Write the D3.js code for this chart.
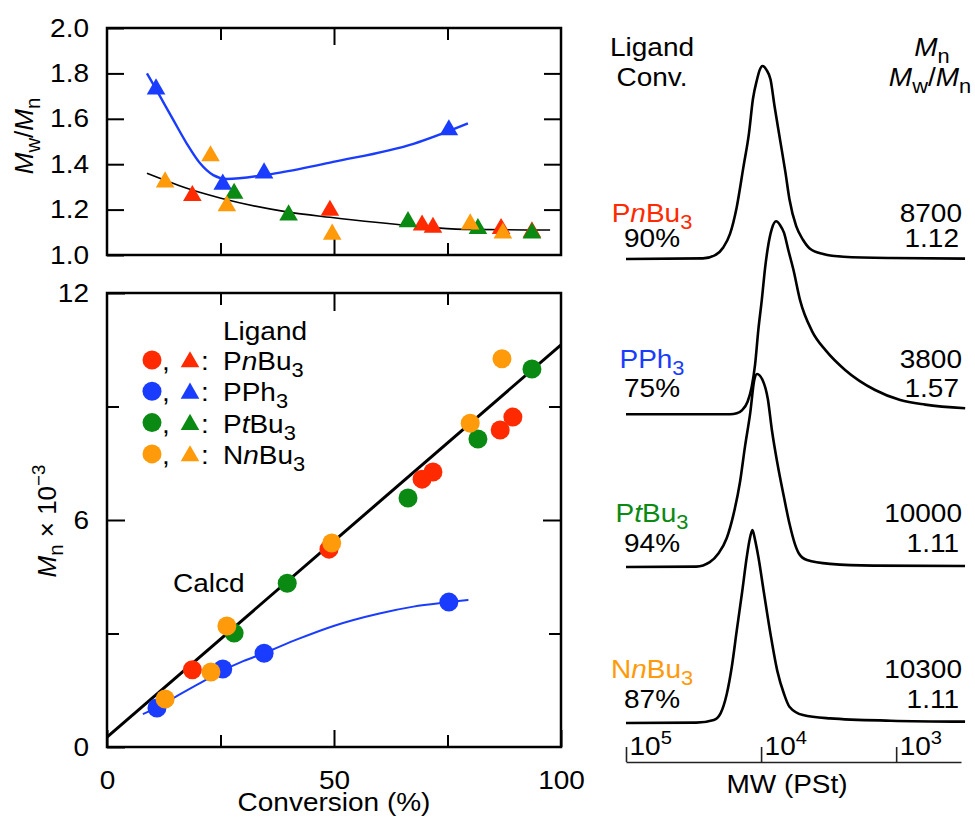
<!DOCTYPE html>
<html lang="en">
<head>
<meta charset="utf-8">
<title>Ligand effect on polymerization</title>
<script src="https://cdn.jsdelivr.net/npm/d3@7"></script>
<style>
  body { margin: 0; background: #fff; }
  text { font-family: "Liberation Sans", Arial, Helvetica, sans-serif; fill: #000; }
</style>
</head>
<body>
<script>
// ---- values ----
var colRed = "#ff2a00", colBlue = "#1a3cff", colGreen = "#0a8a12", colOrange = "#ff9a0a";

// Mw/Mn vs conversion (triangles), [conv %, Mw/Mn]
var pdiPnBu3 = [[18.8,1.27],[49.1,1.205],[69.4,1.14],[71.8,1.13],[86.8,1.125],[93.6,1.11]];
var pdiPPh3  = [[10.8,1.74],[25.5,1.32],[34.6,1.37],[75.3,1.56]];
var pdiPtBu3 = [[28,1.28],[40,1.185],[66.3,1.155],[81.7,1.125],[93.6,1.105]];
var pdiNnBu3 = [[12.8,1.33],[22.8,1.445],[26.4,1.225],[49.6,1.10],[80,1.145],[87.2,1.105]];

// Mn x 10^-3 vs conversion (circles)
var mnPnBu3 = [[18.8,2.04],[48.9,5.23],[69.4,7.08],[71.8,7.27],[86.6,8.38],[89.4,8.72]];
var mnPPh3  = [[11,1.03],[25.5,2.06],[34.6,2.48],[75.3,3.83]];
var mnPtBu3 = [[28,3.01],[39.7,4.33],[66.3,6.58],[81.7,8.14],[93.6,9.99]];
var mnNnBu3 = [[12.8,1.27],[22.9,1.98],[26.4,3.2],[49.5,5.39],[80,8.56],[87,10.26]];

// guide curves
var fitPdiPPh3 = [[8.8,1.80],[10.9,1.727],[14.6,1.595],[17.6,1.49],[20.5,1.404],[23.4,1.352],[26.4,1.335],[34.6,1.352],[38.1,1.363],[49.8,1.41],[67.5,1.49],[79.5,1.58]];
var fitPdiOther = [[8.8,1.36],[18.8,1.286],[25.1,1.25],[39.6,1.19],[49.1,1.166],[67.5,1.128],[78.5,1.113],[97.6,1.11]];
var fitMnPPh3 = [[7.9,0.87],[11,1.04],[15,1.32],[20.5,1.69],[25.5,2.02],[30,2.27],[34.6,2.48],[42,2.85],[49.9,3.2],[60,3.53],[67.5,3.71],[75.4,3.83],[79.6,3.89]];
var calcdMn = [[0,0.26],[100,10.63]];

// SEC traces, [log10 MW, relative intensity]
var secPnBu3 = [[5.0,0],[4.43,0.3],[4.34,2],[4.28,6],[4.23,13],[4.18,27],[4.13,48],[4.09,65],[4.06,83],[4.03,93],[4.01,98],[3.99,100],[3.96,98],[3.93,93],[3.90,79],[3.86,62],[3.82,45],[3.79,31],[3.74,17],[3.69,10],[3.64,5.5],[3.54,2.6],[3.39,1.2],[3.04,0.5],[2.49,0.2]];
var secPPh3 = [[5.0,0],[4.23,0],[4.18,0.5],[4.14,2.2],[4.10,6.5],[4.07,14],[4.044,26],[4.02,44],[3.995,59],[3.97,76],[3.946,88],[3.921,96],[3.889,100],[3.859,98],[3.83,94],[3.798,85],[3.761,75],[3.711,59],[3.622,43],[3.52,33],[3.378,23],[3.156,12.6],[2.97,7.4],[2.785,5],[2.489,3.1]];
var secPtBu3 = [[5.0,0],[4.48,0.2],[4.38,2.5],[4.316,7],[4.254,15],[4.205,27],[4.156,44],[4.12,62],[4.08,80],[4.05,97],[4.03,100],[3.99,97],[3.95,87],[3.92,71],[3.88,54],[3.83,36],[3.79,22.5],[3.75,12],[3.72,7],[3.66,3.6],[3.49,1.6],[3.17,0.7],[2.49,0.5]];
var secNnBu3 = [[5.0,0],[4.48,0.2],[4.35,1.6],[4.30,5],[4.254,15],[4.217,29],[4.18,48],[4.14,68],[4.106,86],[4.085,95],[4.064,100],[4.045,95],[4.02,86],[3.98,68],[3.93,46],[3.88,27],[3.83,15],[3.79,8.4],[3.69,4.1],[3.49,2.4],[3.04,1.2],[2.49,0.7]];

var ligandNames = [
  [["P"],["n","i"],["Bu"],["3","sub"]],
  [["PPh"],["3","sub"]],
  [["P"],["t","i"],["Bu"],["3","sub"]],
  [["N"],["n","i"],["Bu"],["3","sub"]]
];
var ligandColors = [colRed, colBlue, colGreen, colOrange];
var convLabels = ["90%", "75%", "94%", "87%"];
var mnLabels = ["8700", "3800", "10000", "10300"];
var pdiLabels = ["1.12", "1.57", "1.11", "1.11"];

var width = 975, height = 819;
var fs = 25, sx = 1.12;   // the lettering in the figure is a bit wider than Arial
var svg = d3.select("body").append("svg")
  .attr("width", width).attr("height", height);

// write text made of plain / italic / sub / sup pieces
function rich(sel, parts, size) {
  var shift = 0;
  parts.forEach(function(p) {
    var t = sel.append("tspan").text(p[0]);
    var target = 0, f = size;
    if (p[1] == "i") t.style("font-style", "italic");
    if (p[1] == "sub") { target = 7; f = size * 0.78; }
    if (p[1] == "sup") { target = -11; f = size * 0.72; }
    t.attr("font-size", f);
    if (target != shift) t.attr("dy", target - shift);
    shift = target;
  });
  return sel;
}

// horizontal label, slightly widened
function label(parent, px, py, anchor) {
  return parent.append("text")
    .attr("transform", "translate(" + px + "," + py + ") scale(" + sx + ",1)")
    .attr("text-anchor", anchor || "start")
    .attr("font-size", fs);
}

// ---- scales ----
var x = d3.scaleLinear().domain([0, 100]).range([107, 561]);
var yPdi = d3.scaleLinear().domain([1, 2]).range([255, 28]);
var yMn = d3.scaleLinear().domain([0, 12]).range([747, 293]);
var xMW = d3.scaleLog().domain([1e5, Math.pow(10, 2.52)]).range([626, 961]);

function cleanAxis(g) {
  g.select(".domain").remove();
  g.selectAll(".tick line").attr("stroke", "#000").attr("stroke-width", 2);
  g.selectAll(".tick text").attr("font-size", fs)
    .attr("font-family", "Liberation Sans, Arial, sans-serif")
    .attr("x", function() { return +d3.select(this).attr("x") / sx; })
    .attr("transform", "scale(" + sx + ",1)");
}

// ---- top panel : Mw/Mn ----
var gTop = svg.append("g");
gTop.append("g").attr("transform", "translate(107,0)")
  .call(d3.axisLeft(yPdi).tickValues([1, 1.2, 1.4, 1.6, 1.8, 2]).tickFormat(d3.format(".1f")).tickSizeInner(-17).tickSizeOuter(0).tickPadding(18))
  .call(cleanAxis);
gTop.append("g").attr("transform", "translate(561,0)")
  .call(d3.axisRight(yPdi).tickValues([1.2, 1.4, 1.6, 1.8]).tickFormat("").tickSizeInner(-17).tickSizeOuter(0))
  .call(cleanAxis);
gTop.append("g").attr("transform", "translate(0,255)")
  .call(d3.axisBottom(x).tickValues([50]).tickFormat("").tickSizeInner(-17).tickSizeOuter(0)).call(cleanAxis);
gTop.append("g").attr("transform", "translate(0,255)")
  .call(d3.axisBottom(x).tickValues([25, 75]).tickFormat("").tickSizeInner(-12).tickSizeOuter(0)).call(cleanAxis);
gTop.append("g").attr("transform", "translate(0,28)")
  .call(d3.axisTop(x).tickValues([50]).tickFormat("").tickSizeInner(-17).tickSizeOuter(0)).call(cleanAxis);
gTop.append("g").attr("transform", "translate(0,28)")
  .call(d3.axisTop(x).tickValues([25, 75]).tickFormat("").tickSizeInner(-12).tickSizeOuter(0)).call(cleanAxis);

var linePdi = d3.line().x(function(d) { return x(d[0]); }).y(function(d) { return yPdi(d[1]); }).curve(d3.curveMonotoneX);
gTop.append("path").datum(fitPdiOther).attr("d", linePdi)
  .attr("fill", "none").attr("stroke", "#000").attr("stroke-width", 1.6);
gTop.append("path").datum(fitPdiPPh3).attr("d", linePdi)
  .attr("fill", "none").attr("stroke", colBlue).attr("stroke-width", 2.4);

var tri = d3.symbol(d3.symbolTriangle, 150);
[[pdiPPh3, colBlue], [pdiPnBu3, colRed], [pdiPtBu3, colGreen], [pdiNnBu3, colOrange]].forEach(function(s) {
  gTop.selectAll(null).data(s[0]).enter().append("path")
    .attr("d", tri)
    .attr("transform", function(d) { return "translate(" + x(d[0]) + "," + (yPdi(d[1]) + 2) + ")"; })
    .attr("fill", s[1]);
});
gTop.append("rect").attr("x", 107).attr("y", 28).attr("width", 454).attr("height", 227)
  .attr("fill", "none").attr("stroke", "#000").attr("stroke-width", 2.5);

rich(gTop.append("text").attr("transform", "translate(33,136) rotate(-90)")
  .attr("text-anchor", "middle").attr("font-size", 26),
  [["M","i"],["w","sub"],["/"],["M","i"],["n","sub"]], 26);

// ---- bottom panel : Mn ----
var gBot = svg.append("g");
gBot.append("g").attr("transform", "translate(107,0)")
  .call(d3.axisLeft(yMn).tickValues([0, 6, 12]).tickSizeInner(-18).tickSizeOuter(0).tickPadding(18))
  .call(cleanAxis);
gBot.append("g").attr("transform", "translate(107,0)")
  .call(d3.axisLeft(yMn).tickValues([3, 9]).tickFormat("").tickSizeInner(-12).tickSizeOuter(0)).call(cleanAxis);
gBot.append("g").attr("transform", "translate(561,0)")
  .call(d3.axisRight(yMn).tickValues([6]).tickFormat("").tickSizeInner(-18).tickSizeOuter(0)).call(cleanAxis);
gBot.append("g").attr("transform", "translate(561,0)")
  .call(d3.axisRight(yMn).tickValues([3, 9]).tickFormat("").tickSizeInner(-12).tickSizeOuter(0)).call(cleanAxis);
gBot.append("g").attr("transform", "translate(0,747)")
  .call(d3.axisBottom(x).tickValues([0, 50, 100]).tickSizeInner(-17).tickSizeOuter(0).tickPadding(24))
  .call(cleanAxis);
gBot.append("g").attr("transform", "translate(0,747)")
  .call(d3.axisBottom(x).tickValues([25, 75]).tickFormat("").tickSizeInner(-12).tickSizeOuter(0)).call(cleanAxis);
gBot.append("g").attr("transform", "translate(0,293)")
  .call(d3.axisTop(x).tickValues([50]).tickFormat("").tickSizeInner(-18).tickSizeOuter(0)).call(cleanAxis);
gBot.append("g").attr("transform", "translate(0,293)")
  .call(d3.axisTop(x).tickValues([25, 75]).tickFormat("").tickSizeInner(-12).tickSizeOuter(0)).call(cleanAxis);

var lineMn = d3.line().x(function(d) { return x(d[0]); }).y(function(d) { return yMn(d[1]); }).curve(d3.curveMonotoneX);
gBot.append("path").datum(calcdMn).attr("d", lineMn)
  .attr("fill", "none").attr("stroke", "#000").attr("stroke-width", 3);
gBot.append("path").datum(fitMnPPh3).attr("d", lineMn)
  .attr("fill", "none").attr("stroke", colBlue).attr("stroke-width", 2);

[[mnPPh3, colBlue], [mnPnBu3, colRed], [mnPtBu3, colGreen], [mnNnBu3, colOrange]].forEach(function(s) {
  gBot.selectAll(null).data(s[0]).enter().append("circle")
    .attr("cx", function(d) { return x(d[0]); })
    .attr("cy", function(d) { return yMn(d[1]); })
    .attr("r", 9.5).attr("fill", s[1]);
});
gBot.append("rect").attr("x", 107).attr("y", 293).attr("width", 454).attr("height", 454)
  .attr("fill", "none").attr("stroke", "#000").attr("stroke-width", 2.5);

label(gBot, 173, 592).text("Calcd");
label(gBot, 334, 811, "middle").text("Conversion (%)");
rich(gBot.append("text").attr("transform", "translate(56,521) rotate(-90)")
  .attr("text-anchor", "middle").attr("font-size", 26),
  [["M","i"],["n","sub"],[" \u00d7 10"],["\u22123","sup"]], 26);

// legend
label(gBot, 223, 340).text("Ligand");
ligandNames.forEach(function(nm, i) {
  var cy = 360 + i * 31.3;
  gBot.append("circle").attr("cx", 152).attr("cy", cy).attr("r", 9.5).attr("fill", ligandColors[i]);
  label(gBot, 162, cy + 10).text(",");
  gBot.append("path").attr("d", tri).attr("transform", "translate(190," + (cy + 2) + ")").attr("fill", ligandColors[i]);
  label(gBot, 201, cy + 10).text(":");
  rich(label(gBot, 223, cy + 10), nm, fs);
});

// ---- right panel : SEC curves ----
var gSec = svg.append("g");
var secData = [secPnBu3, secPPh3, secPtBu3, secNnBu3];
var secBase = [259, 414.3, 567, 723];
var nameY = [222, 368, 522, 678];
var numY = [247, 397, 552, 708];

secData.forEach(function(tr, i) {
  var yTr = d3.scaleLinear().domain([0, 100]).range([secBase[i], secBase[i] - 193]);
  var ln = d3.line()
    .x(function(d) { return xMW(Math.pow(10, d[0])); })
    .y(function(d) { return yTr(d[1]); })
    .curve(d3.curveMonotoneX);
  gSec.append("path").datum(tr).attr("d", ln)
    .attr("fill", "none").attr("stroke", "#000").attr("stroke-width", 2.6);

  rich(label(gSec, 652, nameY[i], "middle"), ligandNames[i], fs)
    .selectAll("tspan").style("fill", ligandColors[i]);
  label(gSec, 652, numY[i], "middle").text(convLabels[i]);
  label(gSec, 962, nameY[i], "end").text(mnLabels[i]);
  label(gSec, 959, numY[i], "end").text(pdiLabels[i]);
});

label(gSec, 652, 56, "middle").text("Ligand");
label(gSec, 652, 86, "middle").text("Conv.");
rich(label(gSec, 932, 56, "middle"), [["M","i"],["n","sub"]], fs);
rich(label(gSec, 930, 86, "middle"), [["M","i"],["w","sub"],["/"],["M","i"],["n","sub"]], fs);

// MW axis
var mwAxis = gSec.append("g").attr("transform", "translate(0,762)")
  .call(d3.axisBottom(xMW).tickValues([1e5, 1e4, 1e3]).tickFormat("").tickSizeInner(-15).tickSizeOuter(0));
mwAxis.select(".domain").attr("stroke", "#222").attr("stroke-width", 1.6);
mwAxis.selectAll(".tick line").attr("stroke", "#222").attr("stroke-width", 1.6);
mwAxis.selectAll(".tick").each(function(d) {
  rich(label(d3.select(this), 3, -7), [["10"], [String(Math.round(Math.log10(d))), "sup"]], fs);
});
label(gSec, 787, 793, "middle").text("MW (PSt)");
</script>
</body>
</html>
